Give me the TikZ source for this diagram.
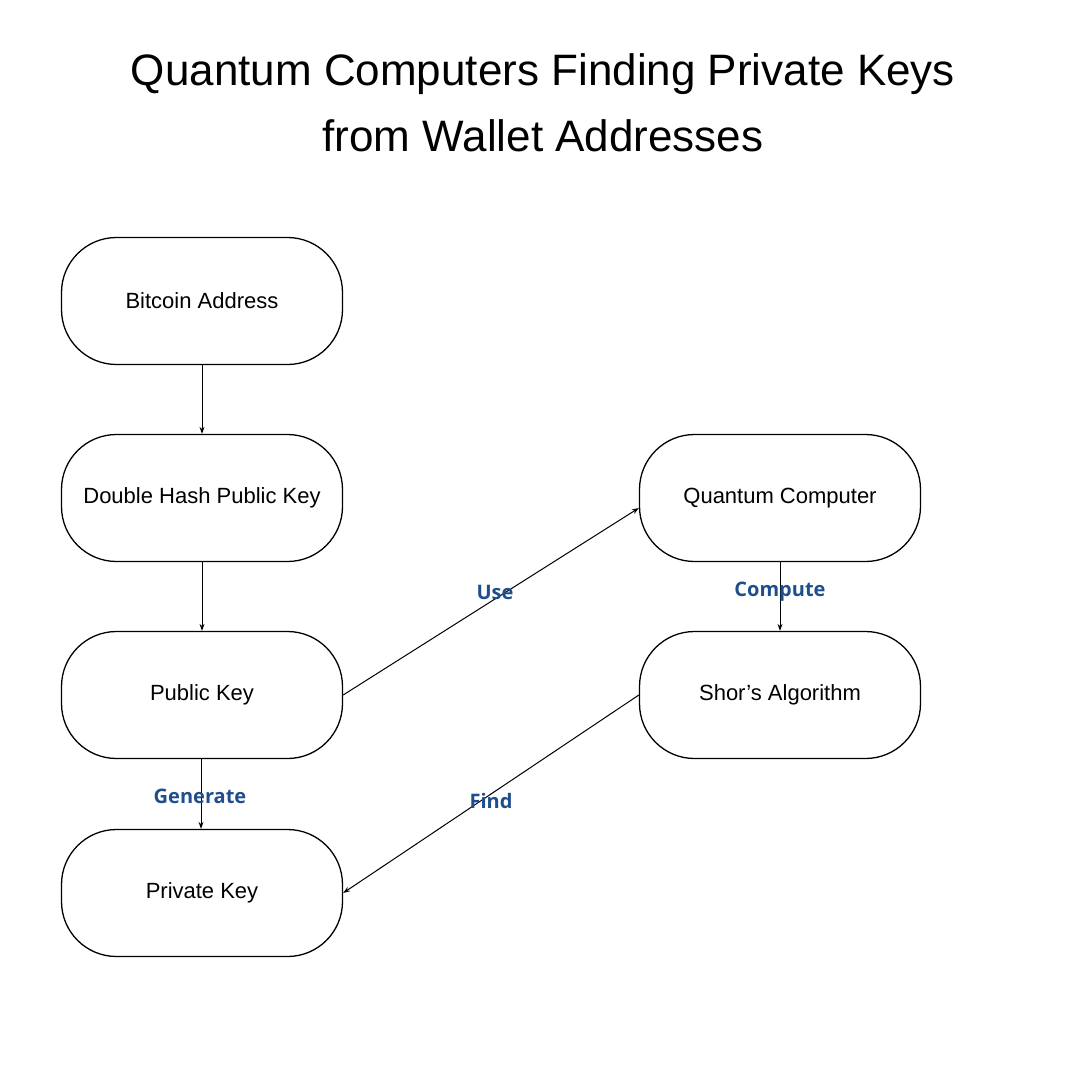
\documentclass[tikz,border=0pt]{standalone}
\usepackage{fontspec}
\setmainfont{Liberation Sans}
\newfontfamily\lblfont{Open Sans}
\usetikzlibrary{arrows.meta}
\definecolor{lbl}{HTML}{1F4E8C}
\begin{document}
\begin{tikzpicture}[x=1pt,y=-1pt,
 box/.style={draw,line width=1.3pt,rounded corners=55pt,minimum width=281pt,minimum height=127pt,font=\fontsize{22}{26}\selectfont,inner sep=0pt},
 arr/.style={-{Stealth[length=7pt,width=5pt]},line width=1pt},
 lab/.style={text=lbl,font=\lblfont\bfseries\fontsize{20}{24}\selectfont}]
\useasboundingbox (0,0) rectangle (1080,1080);
\node[font=\fontsize{44}{66}\selectfont,align=center] (title) at (543,103) {Quantum Computers Finding Private Keys\\from Wallet Addresses};
\node[box] (ba) at (202,301) {Bitcoin Address};
\node[box] (dh) at (202,498) {Double Hash Public Key};
\node[box] (pk) at (202,695) {Public Key};
\node[box] (pr) at (202,893) {Private Key};
\node[box] (qc) at (780,498) {Quantum Computer};
\node[box] (sa) at (780,695) {Shor’s Algorithm};
\draw[arr] (ba) -- (dh);
\draw[arr] (dh) -- (pk);
\draw[arr] (pk.south) ++(-1,0) coordinate (g1) -- (pr.north -| g1);
\draw[arr] (pk.east) -- (qc.west |- 0,508);
\draw[arr] (qc) -- (sa);
\draw[arr] (sa.west) -- (pr.east);
\node[lab] (l1) at (495,592) {Use};
\node[lab] (l2) at (780,592) {Compute};
\node[lab] (l3) at (200,796) {Generate};
\node[lab] (l4) at (491,801) {Find};
\end{tikzpicture}
\end{document}
